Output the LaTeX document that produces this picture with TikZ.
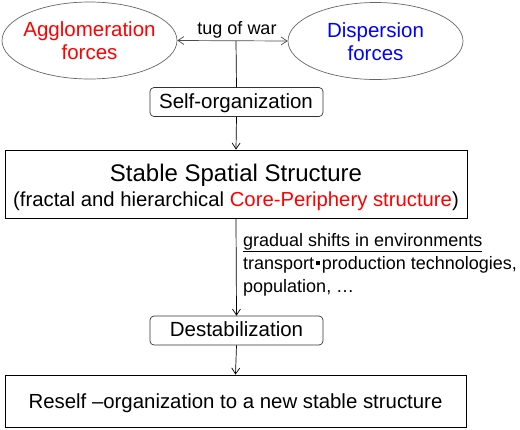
\documentclass[tikz,border=0pt]{standalone}
\usepackage{fontspec}
\setmainfont{Liberation Sans}
\usetikzlibrary{shapes.geometric,arrows.meta}
\newcommand{\mydot}{\hspace{2pt}\rule[0.22em]{0.2em}{0.2em}\hspace{2pt}}
\begin{document}
\begin{tikzpicture}[x=1pt,y=-1pt,
  ell/.style={draw=black!60,line width=0.7pt,ellipse,minimum width=175pt,minimum height=77pt,inner sep=0pt},
  rbox/.style={draw=black!80,line width=0.7pt,rounded corners=4pt,minimum width=173pt,minimum height=29pt,inner sep=0pt},
  sbox/.style={draw=black,line width=0.8pt,inner sep=0pt},
  txt/.style={inner sep=0pt,anchor=base,font=\fontsize{20.5}{23}\selectfont},
  arr/.style={-{Straight Barb[length=6pt,width=8pt]},line width=0.7pt},
  lbl/.style={inner sep=0pt,anchor=base west,font=\fontsize{18}{23}\selectfont}]
\useasboundingbox (0,0) rectangle (520,429);
\node[ell] (agg) at (89.5,40.5) {};
\node[txt,text=red] (aggt1) at (89.5,36) {Agglomeration};
\node[txt,text=red] (aggt2) at (89.5,59) {forces};
\node[ell] (disp) at (375.5,41) {};
\node[txt,text=blue] (dispt1) at (375.5,37) {Dispersion};
\node[txt,text=blue] (dispt2) at (375.5,60) {forces};
\coordinate (mid) at (236,41);
\node[txt,font=\fontsize{18}{20}\selectfont] (tug) at (237,34) {tug of war};
\draw[{Straight Barb[length=6pt,width=8pt]}-{Straight Barb[length=6pt,width=8pt]},line width=0.7pt,draw=black!70] (agg.east) -- (disp.west);
\node[rbox] (self) at (236.5,102) {};
\node[txt] (selft) at (236,108) {Self-organization};
\draw[line width=0.7pt] (mid) -- (self.north);
\node[sbox,minimum width=462pt,minimum height=68pt] (stable) at (236,184) {};
\node[txt,font=\fontsize{24}{26}\selectfont] (st1) at (236,181.5) {Stable Spatial Structure};
\node[txt,font=\fontsize{20.3}{22}\selectfont] (st2) at (236,206.5) {(fractal and hierarchical \textcolor{red}{Core-Periphery structure})};
\draw[arr] (self.south) -- (stable.north);
\node[rbox] (dest) at (236.5,330.5) {};
\node[txt] (destt) at (236.5,336) {Destabilization};
\draw[arr] (stable.south) -- (dest.north);
\node[lbl] (shift1) at (243,246) {\underline{gradual shifts in environments}};
\node[lbl] (shift2) at (243,269) {transport\mydot production technologies,};
\node[lbl] (shift3) at (243,292) {population, \ldots};
\node[sbox,minimum width=461pt,minimum height=52pt] (reself) at (235.5,401) {};
\node[txt,font=\fontsize{20.4}{22}\selectfont] (reselft) at (235.5,408) {Reself \textendash organization to a new stable structure};
\draw[arr] (dest.south) -- (reself.north);
\end{tikzpicture}
\end{document}
